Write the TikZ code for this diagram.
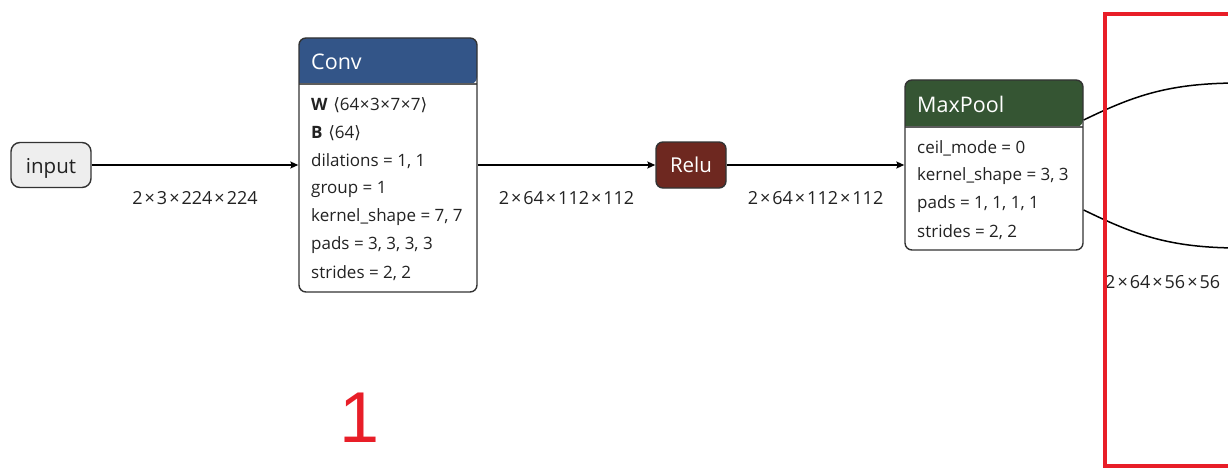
\documentclass[tikz,border=0pt]{standalone}
\usepackage{fontspec}
\setmainfont{Open Sans}
\newfontfamily\dv{DejaVu Sans}
\newfontfamily\lib{Liberation Sans}
\usetikzlibrary{arrows.meta}
\definecolor{convblue}{RGB}{51,85,136}
\definecolor{poolgreen}{RGB}{53,85,51}
\definecolor{relured}{RGB}{110,40,32}
\definecolor{boxborder}{RGB}{51,51,51}
\definecolor{inputfill}{RGB}{238,238,238}
\definecolor{txt}{RGB}{34,34,34}
\definecolor{markred}{RGB}{232,30,40}
\newcommand{\tms}{\kern0.5pt×\kern0.5pt}
\newcommand{\etms}{\kern2pt×\kern2pt}
\tikzset{
  opbox/.style={draw=boxborder, line width=1.4pt, rounded corners=7pt, inner sep=0pt},
  attr/.style={anchor=west, inner sep=0pt, font=\fontsize{17}{20}\selectfont, text=txt},
  head/.style={anchor=west, inner sep=0pt, font=\fontsize{21.5}{24}\selectfont, text=white},
  elabel/.style={inner sep=0pt, font=\fontsize{18}{20}\selectfont, text=txt},
  edge/.style={line width=1.5pt, -{Stealth[length=8pt,width=7pt,inset=1.5pt]}},
  curve/.style={line width=1.5pt},
}
\begin{document}
\begin{tikzpicture}[x=1pt,y=-1pt]
\useasboundingbox (0,0) rectangle (1228,468);
% input
\node[opbox, fill=inputfill, minimum width=80pt, minimum height=45pt, rounded corners=9pt,
      font=\fontsize{20.5}{24}\selectfont, text=txt, text height=17pt, text depth=0pt] (input) at (51,165) {input};
% Conv
\fill[convblue, rounded corners=7pt] (299,84) -- (299,38) -- (477,38) -- (477,84) [sharp corners] -- cycle;
\draw[boxborder!80, line width=1.2pt] (299,84) -- (477,84);
\node[opbox, minimum width=178pt, minimum height=254pt] (conv) at (388,165) {};
\node[head] (convh) at (311,62) {Conv};
\node[attr] (c1) at (311,105) {\textbf{W}\,\,{\dv ⟨}64\tms3\tms7\tms7{\dv ⟩}};
\node[attr] (c2) at (311,133) {\textbf{B}\,\,{\dv ⟨}64{\dv ⟩}};
\node[attr] (c3) at (311,161) {dilations = 1, 1};
\node[attr] (c4) at (311,189) {group = 1};
\node[attr] (c5) at (311,217) {kernel\_shape = 7, 7};
\node[attr] (c6) at (311,245) {pads = 3, 3, 3, 3};
\node[attr] (c7) at (311,273) {strides = 2, 2};
% Relu
\node[opbox, fill=relured, minimum width=70pt, minimum height=46pt,
      font=\fontsize{20.5}{24}\selectfont, text=white] (relu) at (691,165) {Relu};
% MaxPool
\fill[poolgreen, rounded corners=7pt] (905,127) -- (905,80) -- (1083,80) -- (1083,127) [sharp corners] -- cycle;
\draw[boxborder!80, line width=1.2pt] (905,127) -- (1083,127);
\node[opbox, minimum width=178pt, minimum height=170pt] (pool) at (994,165) {};
\node[head] (poolh) at (917,104) {MaxPool};
\node[attr] (p1) at (917,148) {ceil\_mode = 0};
\node[attr] (p2) at (917,176) {kernel\_shape = 3, 3};
\node[attr] (p3) at (917,204) {pads = 1, 1, 1, 1};
\node[attr] (p4) at (917,232) {strides = 2, 2};
% edges
\draw[edge] (input) -- (conv) node[elabel, midway, yshift=-33pt] (l1) {2\etms3\etms224\etms224};
\draw[edge] (conv) -- (relu) node[elabel, midway, yshift=-33pt] (l2) {2\etms64\etms112\etms112};
\draw[edge] (relu) -- (pool) node[elabel, midway, yshift=-33pt] (l3) {2\etms64\etms112\etms112};
% outgoing curves
\coordinate (o1) at (1240,83);
\coordinate (o2) at (1240,248);
\draw[curve] (pool.east |- 0,120) .. controls (1135,95) and (1170,83) .. (o1);
\draw[curve] (pool.east |- 0,210) .. controls (1135,235) and (1170,248) .. (o2);
\node[elabel, anchor=west] (l4) at (1105,282) {2\etms64\etms56\etms56};
% red marks
\draw[markred, line width=4pt] (1240,14.5) -- (1104.5,14.5) -- (1104.5,465.5) -- (1240,465.5);
\node[text=markred, inner sep=0pt, font=\lib\fontsize{72}{80}\selectfont] (one) at (360,418) {1};
\end{tikzpicture}
\end{document}
